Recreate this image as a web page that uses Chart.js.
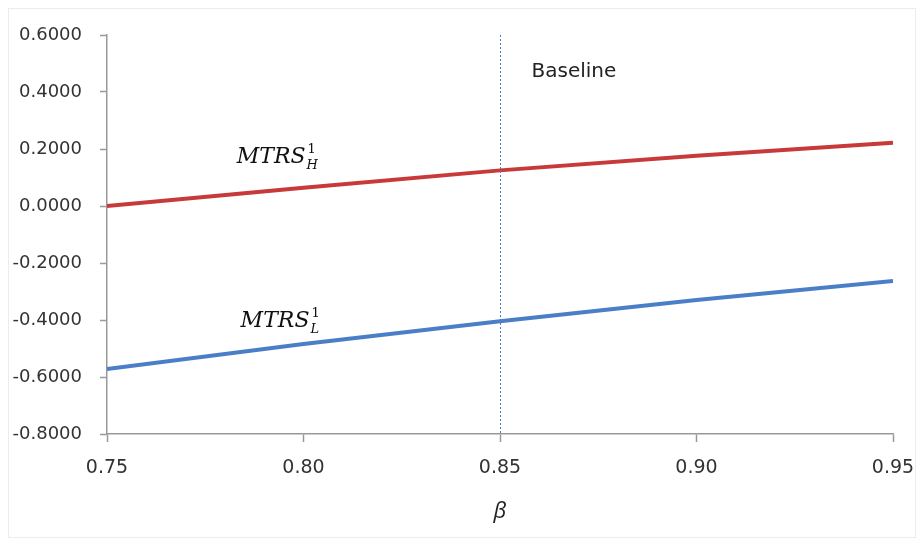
<!DOCTYPE html>
<html>
<head>
<meta charset="utf-8">
<script src="https://cdn.jsdelivr.net/npm/chart.js@4/dist/chart.umd.min.js"></script>
<style>
  html, body { margin: 0; padding: 0; background: #fff; }
  #wrap { width: 922px; height: 544px; position: relative; }
</style>
</head>
<body>
<div id="wrap"><canvas id="lineChart" width="922" height="544"></canvas></div>
<script>
// beta values on the x axis
var beta = [0.75, 0.80, 0.85, 0.90, 0.95];

// MTRS series
var mtrs_h = [0.000, 0.064, 0.125, 0.176, 0.222];
var mtrs_l = [-0.572, -0.484, -0.404, -0.330, -0.263];

var baseline_beta = 0.85;
var baseline_label = 'Baseline';

// where the curve names sit (data coords)
var label_h_pos = [0.783, 0.152];
var label_l_pos = [0.784, -0.425];

function toPoints(xs, ys) {
    return xs.map((x, i) => ({ x: x, y: ys[i] }));
}

// draws the frame, dotted baseline and the math-ish labels
const extrasPlugin = {
    id: 'extras',
    beforeDraw(chart) {
        const ctx = chart.ctx;
        ctx.save();
        ctx.strokeStyle = '#ececec';
        ctx.lineWidth = 1;
        ctx.strokeRect(8.5, 8.5, 907, 529);
        ctx.restore();
    },
    afterDatasetsDraw(chart) {
        const ctx = chart.ctx;
        const xs = chart.scales.x, ys = chart.scales.y;
        const area = chart.chartArea;
        const bx = Math.round(xs.getPixelForValue(baseline_beta)) + 0.5;

        ctx.save();
        ctx.strokeStyle = '#4a7ec6';
        ctx.lineWidth = 1;
        ctx.setLineDash([2, 2]);
        ctx.beginPath();
        ctx.moveTo(bx, area.top);
        ctx.lineTo(bx, area.bottom);
        ctx.stroke();
        ctx.setLineDash([]);

        ctx.fillStyle = '#222';
        ctx.font = '20px "DejaVu Sans", sans-serif';
        ctx.textBaseline = 'middle';
        ctx.fillText(baseline_label, bx + 31, ys.getPixelForValue(0.47));

        drawMtrs(ctx, xs.getPixelForValue(label_h_pos[0]), ys.getPixelForValue(label_h_pos[1]), 'H');
        drawMtrs(ctx, xs.getPixelForValue(label_l_pos[0]), ys.getPixelForValue(label_l_pos[1]), 'L');
        ctx.restore();
    }
};

function drawMtrs(ctx, x, y, sub) {
    ctx.fillStyle = '#111';
    ctx.textBaseline = 'alphabetic';
    ctx.font = 'italic 22px "DejaVu Serif", serif';
    ctx.fillText('MTRS', x, y);
    const w = ctx.measureText('MTRS').width;
    ctx.font = '13px "DejaVu Serif", serif';
    ctx.fillText('1', x + w + 2, y - 10);
    ctx.font = 'italic 13px "DejaVu Serif", serif';
    ctx.fillText(sub, x + w + 1, y + 6);
}

new Chart(document.getElementById('lineChart').getContext('2d'), {
    type: 'line',
    data: {
        datasets: [
            { label: 'MTRS H', data: toPoints(beta, mtrs_h), borderColor: '#c83a3a', borderWidth: 4, pointRadius: 0, tension: 0 },
            { label: 'MTRS L', data: toPoints(beta, mtrs_l), borderColor: '#4a7fc8', borderWidth: 4, pointRadius: 0, tension: 0 }
        ]
    },
    options: {
        responsive: false,
        animation: false,
        layout: { padding: { top: 35, right: 29, left: 0, bottom: 0 } },
        plugins: { legend: { display: false }, tooltip: { enabled: false } },
        scales: {
            x: {
                type: 'linear',
                min: 0.75, max: 0.95,
                afterFit: s => { s.height = 110; s.paddingLeft = 0; s.paddingRight = 0; },
                grid: { display: true, drawOnChartArea: false, tickLength: 8, tickColor: '#999', tickWidth: 1.5 },
                border: { color: '#999', width: 1.5 },
                ticks: {
                    stepSize: 0.05, padding: 15, color: '#333',
                    font: { family: '"DejaVu Sans", sans-serif', size: 19 },
                    callback: v => Number(v).toFixed(2)
                },
                title: {
                    display: true, text: 'β', color: '#222',
                    font: { family: '"Open Sans", sans-serif', size: 22, style: 'italic' },
                    padding: { top: 0, bottom: 19 }
                }
            },
            y: {
                min: -0.8, max: 0.6,
                afterFit: s => { s.width = 107; s.paddingTop = 0; s.paddingBottom = 0; },
                grid: { display: true, drawOnChartArea: false, tickLength: 7, tickColor: '#999', tickWidth: 1.5 },
                border: { color: '#999', width: 1.5 },
                ticks: {
                    stepSize: 0.2, padding: 18, color: '#333',
                    font: { family: '"DejaVu Sans", sans-serif', size: 18 },
                    callback: v => (Math.abs(v) < 1e-9 ? 0 : Number(v)).toFixed(4)
                }
            }
        }
    },
    plugins: [extrasPlugin]
});
</script>
</body>
</html>
